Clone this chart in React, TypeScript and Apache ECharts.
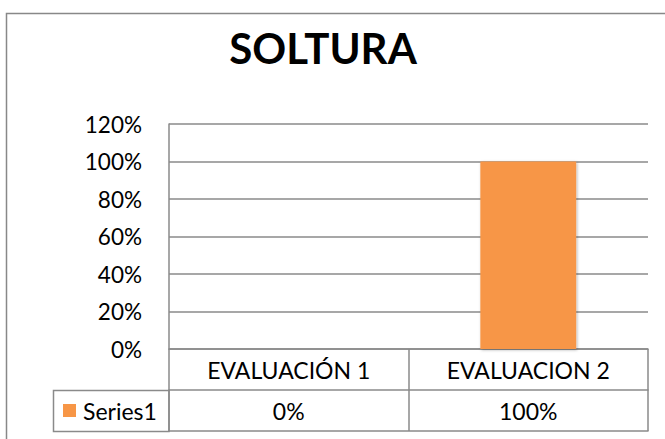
import React, { useEffect, useRef } from "react";
import * as echarts from "echarts";

const title = "SOLTURA";
const categories = ["EVALUACIÓN 1", "EVALUACION 2"];
const seriesName = "Series1";
const values = [0, 1];
const yMin = 0;
const yMax = 1.2;
const yStep = 0.2;

const FONT = "Lato, 'Open Sans', sans-serif";
const GRID = "#8a8a8a";
const ORANGE = "#F79646";

const pct = (v: number) => `${Math.round(v * 100)}%`;

export default function App() {
  const ref = useRef<HTMLDivElement>(null);
  useEffect(() => {
    if (!ref.current) return;
    const chart = echarts.init(ref.current, null, { renderer: "svg" });
    const lineStyle = { color: GRID, width: 1.5 };
    const labelBase = { fontSize: 22.5, color: "#000", fontFamily: FONT };
    chart.setOption({
      animation: false,
      backgroundColor: "#fff",
      grid: { left: 169, right: 17, top: 124, bottom: 90, containLabel: false },
      xAxis: [
        {
          type: "category",
          data: categories,
          position: "bottom",
          axisLine: { show: true, lineStyle },
          axisTick: { show: true, length: 82, interval: 0, lineStyle },
          axisLabel: { ...labelBase, fontSize: 23, interval: 0, margin: 21, verticalAlign: "middle" },
        },
        {
          type: "category",
          data: categories,
          position: "bottom",
          offset: 41,
          axisLine: { show: true, lineStyle },
          axisTick: { show: false },
          axisLabel: {
            ...labelBase,
            fontSize: 23,
            interval: 0,
            margin: 21,
            verticalAlign: "middle",
            formatter: (_v: string, i: number) => pct(values[i]),
          },
        },
        {
          type: "category",
          data: categories,
          position: "bottom",
          offset: 82,
          axisLine: { show: true, lineStyle },
          axisTick: { show: false },
          axisLabel: { show: false },
        },
      ],
      yAxis: {
        type: "value",
        min: yMin,
        max: yMax,
        interval: yStep,
        axisLine: { show: true, lineStyle },
        axisTick: { show: false },
        splitLine: { show: true, lineStyle },
        axisLabel: { ...labelBase, margin: 27, formatter: pct },
      },
      series: [
        {
          type: "bar",
          name: seriesName,
          data: values,
          xAxisIndex: 0,
          barWidth: "40%",
          itemStyle: {
            color: ORANGE,
            shadowBlur: 3,
            shadowColor: "rgba(0,0,0,0.3)",
            shadowOffsetX: 1,
            shadowOffsetY: 1,
          },
        },
      ],
      graphic: [
        {
          type: "rect",
          silent: true,
          z: -10,
          shape: { x: 6.5, y: 13.5, width: 800, height: 600 },
          style: { fill: "none", stroke: "#888", lineWidth: 1.5 },
        },
        {
          type: "text",
          x: 323,
          y: 48,
          style: {
            text: title,
            fontSize: 42,
            fontWeight: "bold",
            fontFamily: FONT,
            fill: "#000",
            align: "center",
            verticalAlign: "middle",
          },
        },
        {
          type: "rect",
          shape: { x: 53.5, y: 390.5, width: 115.5, height: 41 },
          style: { fill: "none", stroke: GRID, lineWidth: 1.5 },
        },
        {
          type: "rect",
          shape: { x: 63, y: 404, width: 13, height: 13 },
          style: { fill: ORANGE },
        },
        {
          type: "text",
          x: 83,
          y: 411,
          style: {
            text: seriesName,
            fontSize: 23,
            fontFamily: FONT,
            fill: "#000",
            align: "left",
            verticalAlign: "middle",
          },
        },
      ],
    });
    return () => chart.dispose();
  }, []);
  return (
    <div
      ref={ref}
      style={{ position: "absolute", left: 0, top: 0, width: 665, height: 439 }}
    />
  );
}
